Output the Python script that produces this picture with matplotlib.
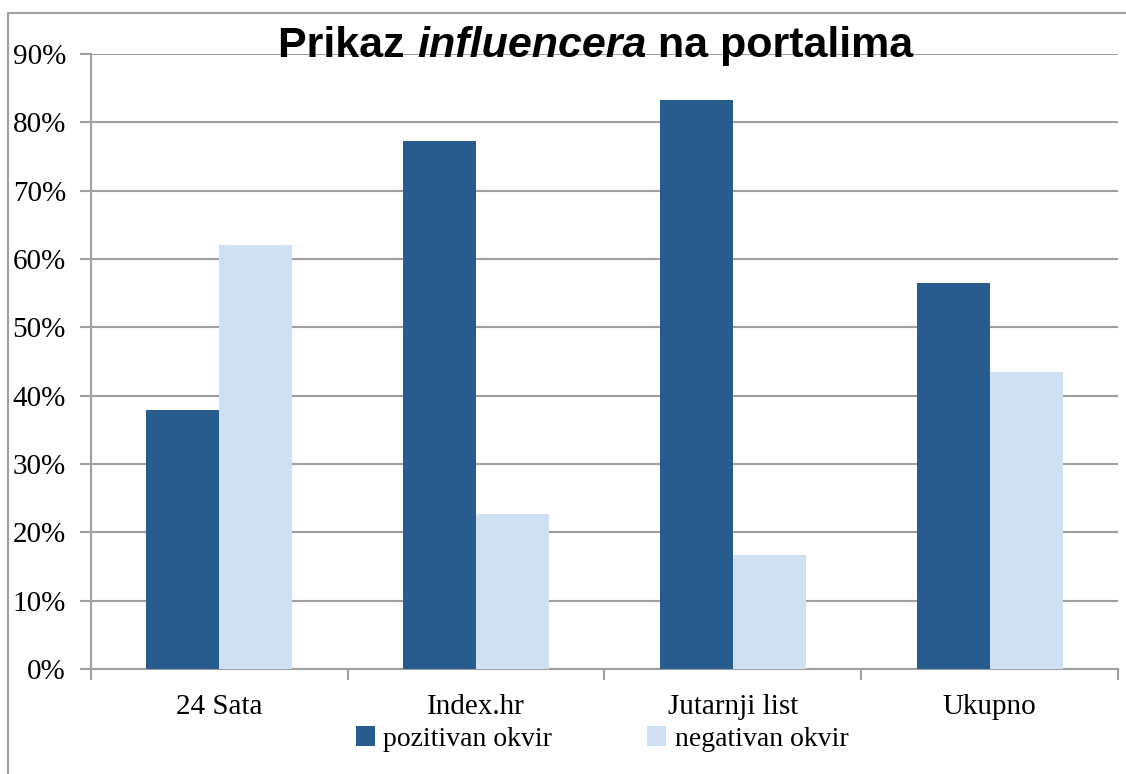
import numpy as np
import matplotlib.pyplot as plt
from matplotlib.patches import Rectangle

# data
categories = ["24 Sata", "Index.hr", "Jutarnji list", "Ukupno"]
pozitivan = [37.9, 77.3, 83.3, 56.5]
negativan = [62.1, 22.7, 16.7, 43.5]
series_names = ["pozitivan okvir", "negativan okvir"]
yticks = [0, 10, 20, 30, 40, 50, 60, 70, 80, 90]

dark = "#285c8f"
light = "#cfe0f2"
grey = "#a0a0a0"

fig = plt.figure(figsize=(11.26, 7.74), dpi=100)
ax = fig.add_axes([0.0808, 0.1357, 0.9121, 0.7945])

# outer chart frame (runs off the right and bottom edges)
fig.patches.append(Rectangle((8 / 1126, -0.05), 1.2, 1 - 13 / 774 + 0.05,
                             transform=fig.transFigure, fill=False,
                             edgecolor=grey, linewidth=1.5))

x = np.arange(len(categories))
w = 0.284
ax.bar(x - w / 2, pozitivan, w, color=dark, label=series_names[0], zorder=3)
ax.bar(x + w / 2, negativan, w, color=light, label=series_names[1], zorder=3)

ax.set_xlim(-0.5, len(categories) - 0.5)
ax.set_ylim(0, 90)
ax.set_yticks(yticks)
ax.set_yticklabels([f"{v}%" for v in yticks])
ax.yaxis.grid(True, color=grey, linewidth=1.5, zorder=0)
ax.set_axisbelow(True)

# category boundaries as major ticks, labels at the centres
ax.set_xticks(np.arange(len(categories) + 1) - 0.5)
ax.set_xticklabels([])
ax.set_xticks(x, minor=True)
ax.set_xticklabels(categories, minor=True)
ax.tick_params(axis="x", which="minor", length=0, pad=18)
ax.tick_params(axis="x", which="major", length=8, width=1.5, color=grey)
ax.tick_params(axis="y", length=8, width=1.5, color=grey, pad=10)

for lab in ax.get_xticklabels(minor=True) + ax.get_yticklabels():
    lab.set_fontfamily("Liberation Serif")
    lab.set_fontsize(21)

for s in ["top", "right"]:
    ax.spines[s].set_visible(False)
for s in ["left", "bottom"]:
    ax.spines[s].set_color(grey)
    ax.spines[s].set_linewidth(1.5)

# title with the italic word
title_y = 1 - 46 / 774
t1 = fig.text(0.5, title_y, "Prikaz ", fontsize=31, fontweight="bold",
              fontfamily="Liberation Sans", va="center", ha="left")
t2 = fig.text(0.5, title_y, "influencera", fontsize=31, fontweight="bold",
              fontstyle="italic", fontfamily="Liberation Sans", va="center", ha="left")
t3 = fig.text(0.5, title_y, " na portalima", fontsize=31, fontweight="bold",
              fontfamily="Liberation Sans", va="center", ha="left")
fig.canvas.draw()
r = fig.canvas.get_renderer()
widths = [t.get_window_extent(r).width for t in (t1, t2, t3)]
start = 596 - sum(widths) / 2
for t, wd in zip((t1, t2, t3), widths):
    t.set_x(start / 1126)
    start += wd

fig.legend(loc="center", bbox_to_anchor=(602 / 1126, 1 - 739 / 774), ncol=2,
           frameon=False, handlelength=0.7, handleheight=0.7, handletextpad=0.3,
           columnspacing=3.4, prop={"family": "Liberation Serif", "size": 20})

fig.savefig("out.png", dpi=100)
